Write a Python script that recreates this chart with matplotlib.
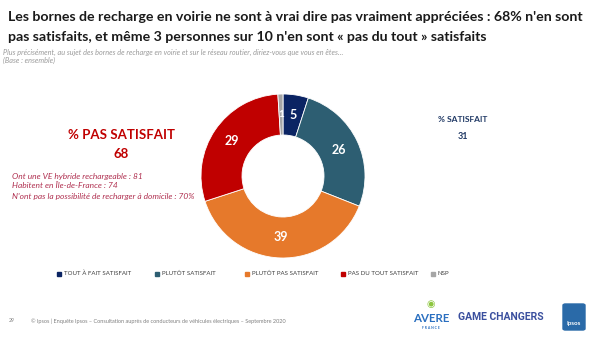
import numpy as np
import matplotlib.pyplot as plt
from matplotlib.patches import FancyBboxPatch, Rectangle

plt.rcParams['font.family'] = ['Lato', 'DejaVu Sans']

# données
categories = ["Tout à fait satisfait", "Plutôt satisfait", "Plutôt pas satisfait",
              "Pas du tout satisfait", "NSP"]
values = [5, 26, 39, 29, 1]
colors = ["#0b2463", "#2d5e72", "#e6792b", "#c00000", "#a6a6a6"]

pas_satisfait = 68
satisfait = 31
details = ["Ont une VE hybride rechargeable : 81",
           "Habitent en Île-de-France : 74",
           "N'ont pas la possibilité de recharger à domicile : 70%"]

W, H = 600, 337
fig = plt.figure(figsize=(6, 3.37), dpi=100)
fig.patch.set_facecolor("white")


def fx(x):
    return x / W


def fy(y):
    return 1 - y / H


# titre
fig.text(fx(8), fy(17), "Les bornes de recharge en voirie ne sont à vrai dire pas vraiment appréciées : 68% n'en sont",
         fontsize=10.2, fontweight="bold", color="#1a1a1a", va="center")
fig.text(fx(8), fy(37), "pas satisfaits, et même 3 personnes sur 10 n'en sont « pas du tout » satisfaits",
         fontsize=10.2, fontweight="bold", color="#1a1a1a", va="center")
fig.text(fx(3), fy(52), "Plus précisément, au sujet des bornes de recharge en voirie et sur le réseau routier, diriez-vous que vous en êtes…",
         fontsize=5.2, style="italic", color="#9a9a9a", va="center")
fig.text(fx(3), fy(60), "(Base : ensemble)",
         fontsize=5.2, style="italic", color="#9a9a9a", va="center")

# donut
cx, cy, r = 283, 176, 82
ax = fig.add_axes([fx(cx - r), fy(cy + r), 2 * r / W, 2 * r / H])
wedges, _ = ax.pie(values, colors=colors, startangle=90, counterclock=False,
                   radius=1, wedgeprops=dict(width=0.5, edgecolor="white", linewidth=0.6))
ax.set_xlim(-1, 1)
ax.set_ylim(-1, 1)
ax.set_aspect("equal")
ax.axis("off")

for v, w in zip(values, wedges):
    mid = np.deg2rad((w.theta1 + w.theta2) / 2)
    fs = 9 if v > 2 else 7
    ax.text(0.75 * np.cos(mid), 0.75 * np.sin(mid), str(v),
            ha="center", va="center", color="white", fontsize=fs, fontweight="bold")

# annotations
red = "#c00000"
fig.text(fx(121), fy(135), "% PAS SATISFAIT", ha="center", va="center",
         fontsize=9.5, fontweight="bold", color=red)
fig.text(fx(121), fy(154), str(pas_satisfait), ha="center", va="center",
         fontsize=9.5, fontweight="bold", color=red)
for i, line in enumerate(details):
    fig.text(fx(12), fy(176 + i * 10), line, ha="left", va="center",
             fontsize=6, style="italic", color="#b03050")

navy = "#1f3864"
fig.text(fx(463), fy(119), "% SATISFAIT", ha="center", va="center",
         fontsize=6, fontweight="bold", color=navy)
fig.text(fx(463), fy(137), str(satisfait), ha="center", va="center",
         fontsize=6.5, fontweight="bold", color=navy)

# légende
leg_x = [57, 155, 245, 341, 431]
for x, lab, c in zip(leg_x, categories, colors):
    fig.patches.append(Rectangle((fx(x), fy(276)), 4 / W, 4 / H, color=c,
                                 transform=fig.transFigure, figure=fig))
    fig.text(fx(x + 7), fy(273.5), lab.upper(), ha="left", va="center",
             fontsize=4.4, color="#404040")

# pied de page
fig.text(fx(9), fy(321), "29", fontsize=3.8, color="#808080", va="center")
fig.text(fx(31), fy(321),
         "© Ipsos | Enquête Ipsos – Consultation auprès de conducteurs de véhicules électriques – Septembre 2020",
         fontsize=4.0, color="#808080", va="center")

# logos
fig.text(fx(431), fy(318), "AVERE", ha="center", va="center", fontsize=8.3,
         fontweight="bold", color="#2a6fc0")
fig.text(fx(431), fy(328), "F R A N C E", ha="center", va="center", fontsize=2.5,
         fontweight="bold", color="#2a6fc0")
fig.text(fx(431), fy(305), "◉", ha="center", va="center", fontsize=7,
         color="#8dc63f")
fig.text(fx(458), fy(317), "GAME CHANGERS", ha="left", va="center", fontsize=7.5,
         fontweight="bold", color="#3a4f9e", family="Roboto")
fig.patches.append(FancyBboxPatch((fx(563), fy(330)), 22 / W, 26 / H,
                                  boxstyle="round,pad=0,rounding_size=0.004",
                                  color="#2a6aa8", transform=fig.transFigure, figure=fig))
fig.text(fx(574), fy(323), "Ipsos", ha="center", va="center", fontsize=4.5,
         fontweight="bold", color="white")

fig.savefig("out.png", dpi=100)
